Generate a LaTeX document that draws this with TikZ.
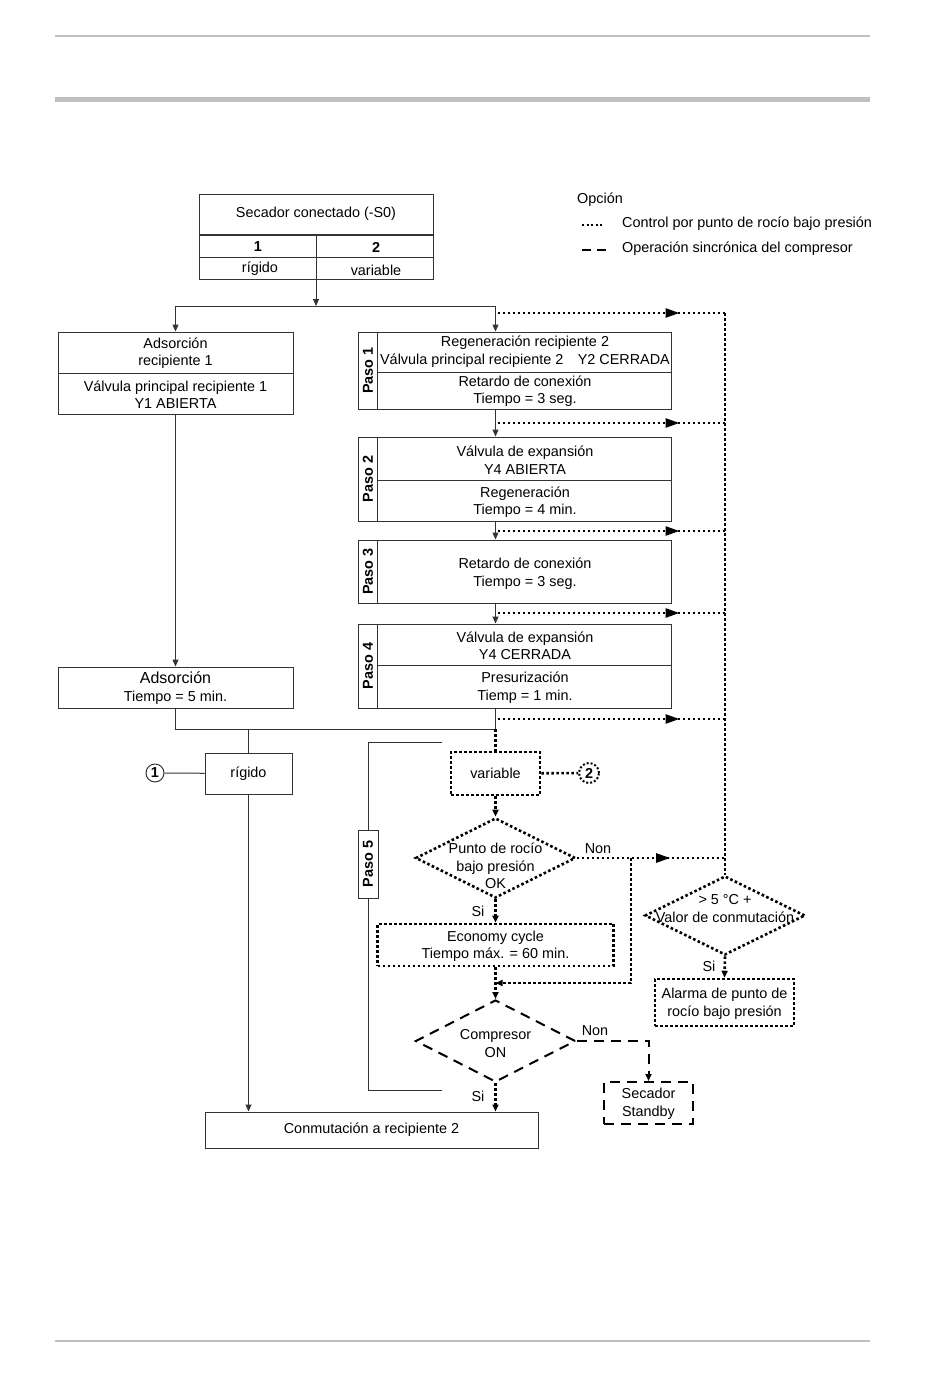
\documentclass[tikz,border=0pt]{standalone}
\usepackage{fontspec}
\setmainfont{Liberation Sans}
\usetikzlibrary{shapes.geometric,arrows.meta,decorations.markings,positioning,calc}

\tikzset{
  every node/.style={font=\fontsize{14.4}{17.5}\selectfont, inner sep=0pt, align=center},
  box/.style={draw=black!80, line width=1pt},
  rule/.style={draw=black!25, line width=#1},
  pasolbl/.style={font=\fontsize{14.4}{17.5}\selectfont\bfseries, rotate=90},
  arr/.style={-{Triangle[length=7pt,width=6pt]}},
  optline/.style={draw=black, line width=2.6pt, dash pattern=on 2.6pt off 2.4pt},
  syncline/.style={draw=black, line width=2pt, dash pattern=on 10pt off 7pt},
  midarrow/.style={postaction={decorate,decoration={markings,
      mark=at position #1 with {\arrow{Triangle[length=14pt,width=9pt]}}}}},
}

\begin{document}
\begin{tikzpicture}[x=1pt,y=-1pt]
  \useasboundingbox (0,0) rectangle (950,1379);

  % page rules
  \draw[rule=2pt] (55,36) -- (870,36);
  \draw[rule=5pt] (55,99) -- (870,99);
  \draw[rule=2pt] (55,1341) -- (870,1341);

  % legend
  \node[anchor=west] (opc) at (577,200) {Opción};
  \coordinate (lg1a) at (582,225);
  \coordinate (lg1b) at (604,225);
  \coordinate (lg2a) at (582,250);
  \coordinate (lg2b) at (607,250);
  \draw[optline, line width=2pt, dash pattern=on 2pt off 2.5pt] (lg1a) -- (lg1b);
  \draw[syncline, line width=2.5pt, dash pattern=on 9pt off 6pt] (lg2a) -- (lg2b);
  \node[anchor=west] (lg1t) at (622,224) {Control por punto de rocío bajo presión};
  \node[anchor=west] (lg2t) at (622,249) {Operación sincrónica del compresor};

  % Secador conectado
  \node[box, minimum width=234, minimum height=85] (sec) at (316,236.5) {};
  \draw[box, line width=1.6pt] (199,235) -- (433,235);
  \draw[box] (199,257) -- (433,257);
  \draw[box] (316,235) -- (sec.south);
  \node (sect) at (316,214) {Secador conectado (-S0)};
  \node[font=\fontsize{14.4}{17.5}\selectfont\bfseries] (sec1) at (258,247) {1};
  \node[font=\fontsize{14.4}{17.5}\selectfont\bfseries] (sec2) at (376,247) {2};
  \node (secr) at (260,269) {rígido};
  \node (secv) at (376,270) {variable};

  \coordinate (split) at (316,306);
  \coordinate (colx) at (495.5,306);
  \draw[box, arr] (sec.south) -- (split);

  % left column
  \node[box, minimum width=235, minimum height=82] (ads1) at (175.5,373) {};
  \draw[box] (ads1.west) -- (ads1.east);
  \node (ads1a) at (175.5,353) {Adsorción\\recipiente 1};
  \node (ads1b) at (175.5,394.5) {Válvula principal recipiente 1\\Y1 ABIERTA};
  \node[box, minimum width=235, minimum height=41] (ads2) at (175.5,687.5) {};
  \node (ads2a) at (175.5,688) {{\fontsize{16}{17.5}\selectfont Adsorción}\\Tiempo = 5 min.};
  \draw[box, arr] (split) -| (ads1.north);
  \draw[box, arr] (ads1.south) -- (ads2.north);

  % Paso 1 to 4
  \foreach \n/\yc/\h in {1/370.5/77, 2/479/84, 3/571.5/63, 4/666/84} {
    \node[box, minimum width=313, minimum height=\h] (p\n) at (514.5,\yc) {};
    \draw[box] (p\n.north west) ++(20,0) -- ++(0,\h);
    \node[pasolbl] (lbl\n) at (368,\yc) {Paso \n};
  }
  \draw[box] (378,372) -- (p1.east |- 0,372);
  \draw[box] (378,480) -- (p2.east |- 0,480);
  \draw[box] (378,665) -- (p4.east |- 0,665);
  \node (p1a) at (525,351.5) {Regeneración recipiente 2\\Válvula principal recipiente 2\quad Y2 CERRADA};
  \node (p1b) at (525,391) {Retardo de conexión\\Tiempo = 3 seg.};
  \node (p2a) at (525,460) {Válvula de expansión\\Y4 ABIERTA};
  \node (p2b) at (525,502) {Regeneración\\Tiempo = 4 min.};
  \node (p3a) at (525,573.5) {Retardo de conexión\\Tiempo = 3 seg.};
  \node (p4a) at (525,646) {Válvula de expansión\\Y4 CERRADA};
  \node (p4b) at (525,687.5) {Presurización\\Tiemp = 1 min.};

  \draw[box, arr] (split) -| (colx |- p1.north);
  \foreach \a/\b in {1/2, 2/3, 3/4}
    \draw[box, arr] (colx |- p\a.south) -- (colx |- p\b.north);

  % dew point bypass lines
  \foreach \y [count=\i] in {313,423,531,613,719} {
    \coordinate (ol\i) at (497.5,\y);
    \coordinate (or\i) at (725,\y);
    \draw[optline, midarrow=0.8] (ol\i) -- (or\i);
  }

  % join and rigido branch
  \coordinate (join) at (495.5,729);
  \draw[box] (ads2.south) |- (join);
  \draw[box] (colx |- p4.south) -- (join);
  \node[box, minimum width=87, minimum height=41] (rig) at (248.5,773.5) {rígido};
  \node[box, circle, minimum size=18, font=\fontsize{14.4}{17.5}\selectfont\bfseries] (c1) at (155,773) {1};
  \draw[box] (rig.north |- join) -- (rig.north);
  \draw[box] (c1) -- (rig);
  \node[box, minimum width=333, minimum height=36] (conm) at (371.5,1130) {Conmutación a recipiente 2};
  \draw[box, arr] (rig.south) -- (rig.south |- conm.north);

  % Paso 5 bracket
  \node[box, minimum width=20, minimum height=68] (p5) at (368,864) {};
  \node[pasolbl] (lbl5) at (368,864) {Paso 5};
  \coordinate (b5top) at (442,742);
  \coordinate (b5bot) at (442,1090);
  \draw[box] (b5top) -| (p5.north);
  \draw[box] (p5.south) |- (b5bot);

  % variable branch
  \node[optline, minimum width=89, minimum height=43] (var) at (495.5,773.5) {variable};
  \node[optline, line width=2pt, dash pattern=on 2pt off 2pt, circle, minimum size=20,
        font=\fontsize{14.4}{17.5}\selectfont\bfseries] (c2) at (589,773) {2};
  \draw[optline] (join) -- (var.north);
  \draw[optline] (var) -- (c2);

  % dew point check
  \node[optline, diamond, minimum width=160, minimum height=80] (d1) at (495.5,858) {};
  \node (d1t) at (495.5,866) {Punto de rocío\\bajo presión\\OK};
  \draw[optline, arr] (var.south) -- (d1.north);
  \node (non1) at (598,849) {Non};
  \node (si1) at (478,911) {Si};
  \coordinate (nx) at (631,858);
  \coordinate (nr) at (725,858);
  \coordinate (merge) at (495.5,983);
  \draw[optline, midarrow=0.63] (d1.east) -- (nr);
  \draw[optline, arr] (nx) |- (merge);

  \node[optline, minimum width=236, minimum height=42] (econ) at (495.5,945) {};
  \node (econt) at (495.5,946.5) {Economy cycle\\Tiempo máx. = 60 min.};
  \draw[optline, arr] (d1.south) -- (econ.north);

  % switching value check
  \node[optline, diamond, minimum width=160, minimum height=79] (d3) at (725,915.5) {};
  \node (d3t) at (725,908.5) {> 5 °C +\\Valor de conmutación};
  \draw[optline] (or1) -- (d3.north);
  \node (si3) at (709,966) {Si};
  \node[optline, minimum width=139, minimum height=47] (alarm) at (724.5,1002.5) {};
  \node (alarmt) at (724.5,1004) {Alarma de punto de\\rocío bajo presión};
  \draw[optline, arr] (d3.south) -- (alarm.north);

  % compressor check
  \node[syncline, diamond, minimum width=160, minimum height=82] (d2) at (495.5,1041) {};
  \node (d2t) at (495.5,1043.5) {Compresor\\ON};
  \draw[optline, arr] (econ.south) -- (d2.north);
  \node (non2) at (595,1031) {Non};
  \node (si2) at (478,1096) {Si};
  \node[syncline, minimum width=89, minimum height=42] (sb) at (648.5,1103) {};
  \node (sbt) at (648.5,1104) {Secador\\Standby};
  \draw[syncline, arr] (d2.east) -| (sb.north);
  \draw[optline, arr] (d2.south) -- (d2.south |- conm.north);
\end{tikzpicture}
\end{document}
